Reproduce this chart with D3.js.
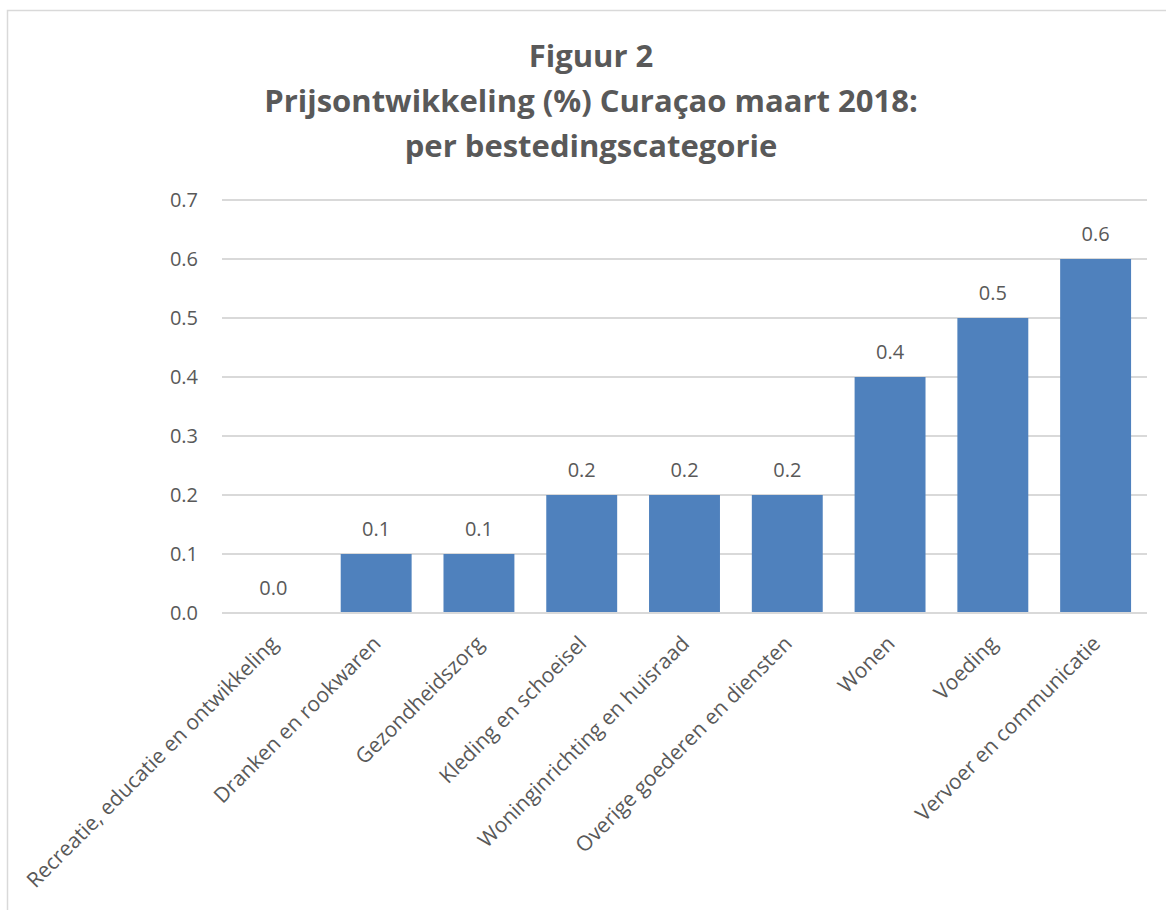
<!DOCTYPE html>
<meta charset="utf-8">
<style>
  body { margin: 0; background: #fff; }
  text { font-family: "Open Sans", sans-serif; fill: #595959; }
</style>
<body>
<script src="https://cdn.jsdelivr.net/npm/d3@7"></script>
<script>
// data
var categories = [
  "Recreatie, educatie en ontwikkeling",
  "Dranken en rookwaren",
  "Gezondheidszorg",
  "Kleding en schoeisel",
  "Woninginrichting en huisraad",
  "Overige goederen en diensten",
  "Wonen",
  "Voeding",
  "Vervoer en communicatie"
];
var values = [0.0, 0.1, 0.1, 0.2, 0.2, 0.2, 0.4, 0.5, 0.6];
var yTicks = [0, 0.1, 0.2, 0.3, 0.4, 0.5, 0.6, 0.7];
var titleLines = ["Figuur 2", "Prijsontwikkeling (%) Curaçao maart 2018:", "per bestedingscategorie"];

var W = 1166, H = 910;
var plot = {left: 222, right: 1147, top: 200, bottom: 613};

var svg = d3.select("body").append("svg")
    .attr("width", W)
    .attr("height", H);

// chart frame
svg.append("rect")
    .attr("x", 7.5).attr("y", 10.5)
    .attr("width", 1180).attr("height", 930)
    .attr("fill", "none")
    .attr("stroke", "#d9d9d9")
    .attr("stroke-width", 1.5);

// title
svg.append("text")
    .attr("text-anchor", "middle")
    .style("font-family", "'Open Sans', sans-serif")
    .style("font-weight", "bold")
    .style("font-size", "31px")
  .selectAll("tspan")
  .data(titleLines)
  .enter().append("tspan")
    .attr("x", 591)
    .attr("y", function(d, i) { return 67 + i * 45; })
    .text(function(d) { return d; });

var x = d3.scaleBand()
    .domain(categories)
    .range([plot.left, plot.right])
    .paddingInner(0.31)
    .paddingOuter(0.155);

var y = d3.scaleLinear()
    .domain([0, 0.7])
    .range([plot.bottom, plot.top]);

// gridlines
svg.append("g")
  .selectAll("line")
  .data(yTicks)
  .enter().append("line")
    .attr("x1", plot.left).attr("x2", plot.right)
    .attr("y1", function(d) { return y(d); })
    .attr("y2", function(d) { return y(d); })
    .attr("stroke", "#d9d9d9")
    .attr("stroke-width", 2);

// y axis labels
var yAxis = svg.append("g")
    .attr("transform", "translate(" + (plot.left - 24) + ",0)")
    .call(d3.axisLeft(y).tickValues(yTicks).tickFormat(d3.format(".1f")).tickSize(0).tickPadding(0));
yAxis.select(".domain").remove();
yAxis.selectAll("text")
    .style("font-size", "20px")
    .style("font-family", "'Open Sans', sans-serif")
    .attr("fill", "#595959");

// bars
svg.append("g")
  .selectAll("rect")
  .data(values)
  .enter().append("rect")
    .attr("x", function(d, i) { return x(categories[i]); })
    .attr("y", function(d) { return y(d); })
    .attr("width", x.bandwidth())
    .attr("height", function(d) { return y(0) - y(d); })
    .attr("fill", "#4f81bd");

// zero line on top
svg.append("line")
    .attr("x1", plot.left).attr("x2", plot.right)
    .attr("y1", y(0)).attr("y2", y(0))
    .attr("stroke", "#d9d9d9")
    .attr("stroke-width", 2);

// data labels
svg.append("g")
  .selectAll("text")
  .data(values)
  .enter().append("text")
    .attr("x", function(d, i) { return x(categories[i]) + x.bandwidth() / 2; })
    .attr("y", function(d) { return y(d) - 18; })
    .attr("text-anchor", "middle")
    .style("font-size", "20px")
    .text(function(d) { return d3.format(".1f")(d); });

// category labels
svg.append("g")
  .selectAll("text")
  .data(categories)
  .enter().append("text")
    .attr("transform", function(d) {
      return "translate(" + (x(d) + x.bandwidth() / 2 + 6) + "," + 645 + ") rotate(-45)";
    })
    .attr("text-anchor", "end")
    .style("font-size", "21px")
    .text(function(d) { return d; });
</script>
</body>
